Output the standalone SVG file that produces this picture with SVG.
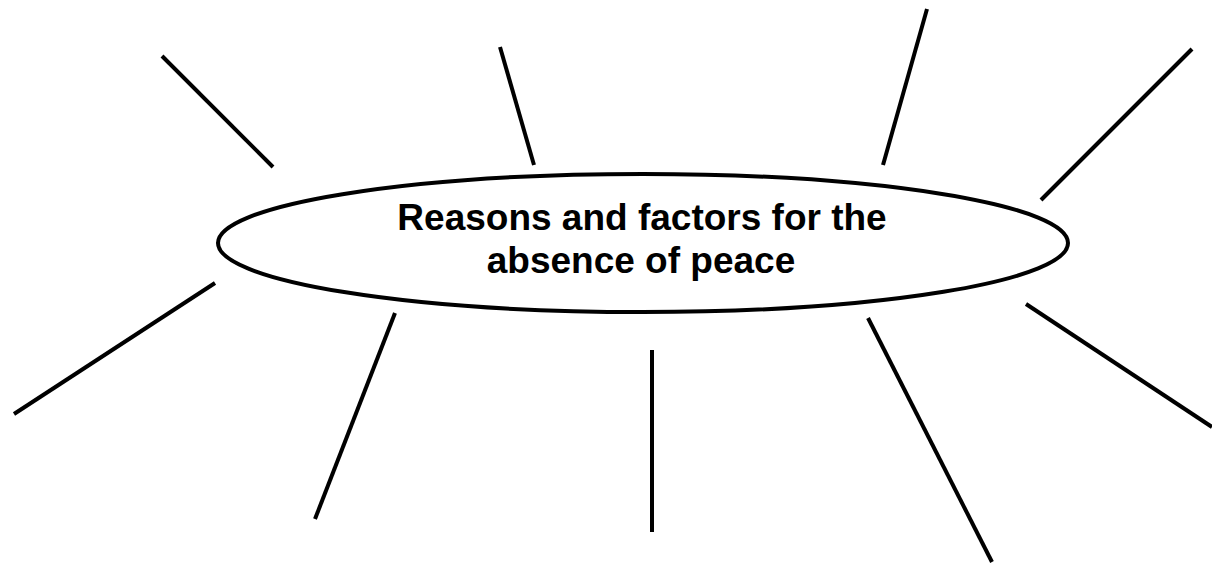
<svg xmlns="http://www.w3.org/2000/svg" width="1212" height="564" viewBox="0 0 1212 564">
<style>
.ln{stroke:#000;stroke-width:4;fill:none;stroke-linecap:butt}
.el{fill:#fff;stroke:#000;stroke-width:4}
.t{font-family:"Liberation Sans",Arial,sans-serif;font-weight:bold;font-size:37px;fill:#000;text-anchor:middle}
</style>
<rect width="1212" height="564" fill="#fff"/>
<g id="connectors">
<line class="ln" x1="162" y1="56" x2="273" y2="167"/>
<line class="ln" x1="500" y1="47" x2="534" y2="165"/>
<line class="ln" x1="927" y1="9" x2="883" y2="165"/>
<line class="ln" x1="1192" y1="49" x2="1041" y2="200"/>
<line class="ln" x1="215" y1="283" x2="14" y2="414"/>
<line class="ln" x1="395" y1="313" x2="315" y2="519"/>
<line class="ln" x1="652" y1="350" x2="652" y2="532"/>
<line class="ln" x1="868" y1="318" x2="992" y2="562"/>
<line class="ln" x1="1026" y1="304" x2="1212" y2="427"/>
</g>
<g id="center">
<ellipse class="el" cx="643" cy="243" rx="425" ry="69"/>
<text class="t" x="642" y="230">Reasons and factors for the</text>
<text class="t" x="641" y="273">absence of peace</text>
</g>
</svg>
